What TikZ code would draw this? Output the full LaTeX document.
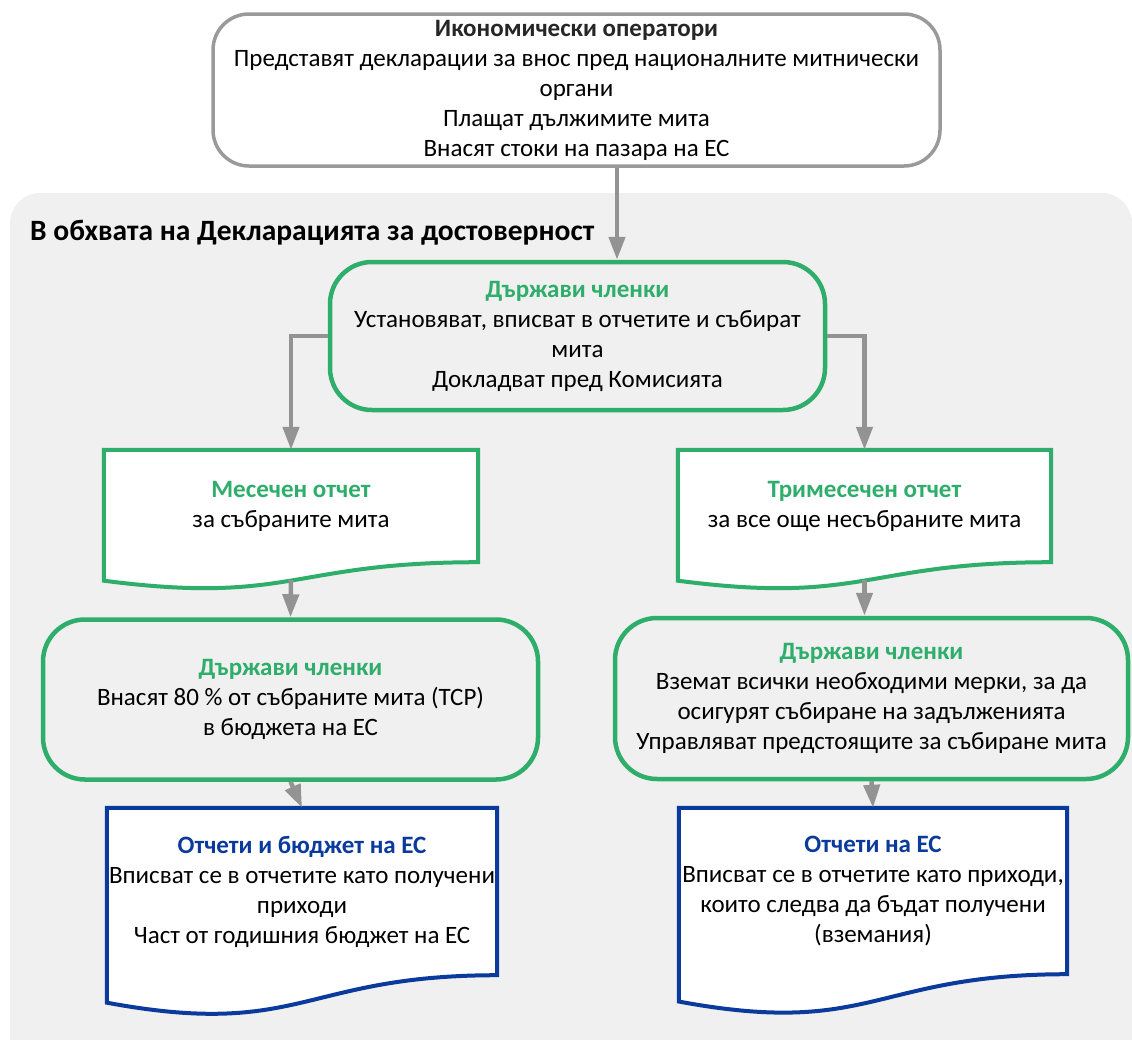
\documentclass[tikz,border=0pt]{standalone}
\usepackage{fontspec}
\setmainfont{Carlito}
\usepackage{xcolor}
\definecolor{StateGreen}{HTML}{2EAD6B}
\definecolor{EuBlue}{HTML}{0A3A9C}
\definecolor{FlowGray}{HTML}{939393}
\definecolor{ScopeGray}{HTML}{F0F0F0}
\definecolor{EcoGray}{HTML}{9A9A9A}
\usetikzlibrary{arrows.meta,calc,backgrounds}

% document shape: wavy bottom below node #1, full height #3
\newcommand\docwave[3]{\draw[#2,line width=4pt,fill=white,line join=miter]
  (#1.north west) -- (#1.north east) -- (#1.south east)
  .. controls (#1.south) and ($(#1.south)+(0,0.306*#3)$) .. ($(#1.south west)+(0,0.132*#3)$) -- cycle;}

\begin{document}
\begin{tikzpicture}[x=1pt,y=-1pt,>={Triangle[width=16pt,length=23pt]},
  every node/.style={font=\fontsize{25}{30}\selectfont,align=center,inner sep=0pt},
  ecobox/.style={draw=EcoGray,line width=3.5pt,rounded corners=36pt,fill=white},
  msbox/.style={draw=StateGreen,line width=4.5pt,rounded corners=42pt},
  docbox/.style={draw=none},
  arr/.style={->,draw=FlowGray,line width=4.5pt}]
\useasboundingbox (0,0) rectangle (1132,1039);
\begin{scope}[on background layer]
\clip (0,0) rectangle (1132,1039);
\fill[ScopeGray,rounded corners=30pt] (10,193) rectangle (1132,1080);
\end{scope}
\node[ecobox,minimum width=727pt,minimum height=152pt] (eco) at (576.5,90)
  {\textbf{\color{black!85}Икономически оператори}\\Представят декларации за внос пред националните митнически\\органи\\Плащат дължимите мита\\Внасят стоки на пазара на ЕС};
\node[anchor=west,font=\fontsize{29.5}{30}\selectfont\bfseries] (scope) at (30,233) {В обхвата на Декларацията за достоверност};
\node[msbox,minimum width=495pt,minimum height=148pt] (ms) at (577.5,336)
  {\textbf{\color{StateGreen}Държави членки}\\Установяват, вписват в отчетите и събират\\мита\\Докладват пред Комисията};
\node[docbox,minimum width=374pt,minimum height=112pt] (mon) at (291,506)
  {\textbf{\color{StateGreen}Месечен отчет}\\за събраните мита};
\node[docbox,minimum width=373pt,minimum height=112pt] (qtr) at (864.5,506)
  {\textbf{\color{StateGreen}Тримесечен отчет}\\за все още несъбраните мита};
\node[msbox,minimum width=495pt,minimum height=160pt] (msl) at (290.5,699.5)
  {\textbf{\color{StateGreen}Държави членки}\\Внасят 80 \% от събраните мита (ТСР)\\в бюджета на ЕС};
\node[msbox,minimum width=513pt,minimum height=161pt] (msr) at (871.5,698.5)
  {\textbf{\color{StateGreen}Държави членки}\\Вземат всички необходими мерки, за да\\осигурят събиране на задълженията\\Управляват предстоящите за събиране мита};
\node[docbox,minimum width=390pt,minimum height=167pt] (eul) at (302,891.5)
  {\textbf{\color{EuBlue}Отчети и бюджет на ЕС}\\Вписват се в отчетите като получени\\приходи\\Част от годишния бюджет на ЕС};
\node[docbox,minimum width=388pt,minimum height=166pt] (eur) at (873,891)
  {\textbf{\color{EuBlue}Отчети на ЕС}\\Вписват се в отчетите като приходи,\\които следва да бъдат получени\\(вземания)};
\begin{scope}[on background layer]
\docwave{mon}{StateGreen}{140}
\docwave{qtr}{StateGreen}{140}
\docwave{eul}{EuBlue}{208}
\docwave{eur}{EuBlue}{207}
\end{scope}
\draw[arr] ([xshift=40.5pt]eco.south) -- ([xshift=39.5pt]ms.north);
\draw[arr] (ms.west) -| (mon.north);
\draw[arr] (ms.east) -| (qtr.north);
\draw[arr] ([yshift=-18pt]mon.south) -- (msl.north);
\draw[arr] ([yshift=-18pt]qtr.south) -- (qtr.south |- msr.north);
\draw[arr] (msl.south) -- (eul.north);
\draw[arr] (msr.south) -- (eur.north);
\end{tikzpicture}
\end{document}
